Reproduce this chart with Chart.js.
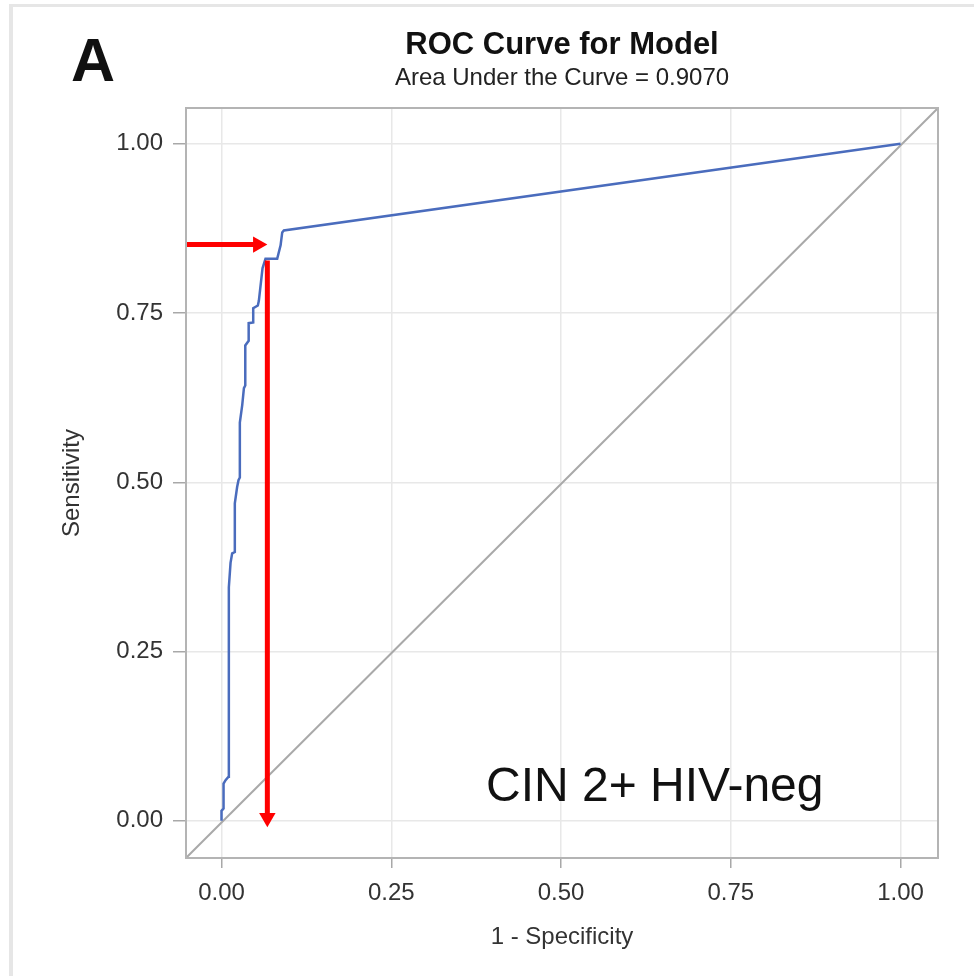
<html>
<head>
  <title>ROC Curve for Model</title>
  <script src="https://cdn.jsdelivr.net/npm/chart.js"></script>
  <style>
    body { margin: 0; background: #fff; }
    #frameTop { position: absolute; left: 9px; top: 4px; width: 965px; height: 3px; background: #e6e6e6; }
    #frameLeft { position: absolute; left: 9px; top: 4px; width: 4px; height: 972px; background: #e6e6e6; }
    #myChart { position: absolute; left: 0; top: 0; }
  </style>
</head>
<body>
  <div id="frameTop"></div>
  <div id="frameLeft"></div>
  <canvas id="myChart" width="974" height="976"></canvas>

  <script>
    // ROC curve (1 - specificity, sensitivity)
    var fpr = [0, 0, 0.003, 0.003, 0.006, 0.0103, 0.0108, 0.0133, 0.0157, 0.0196, 0.0196, 0.023, 0.025, 0.027,
               0.027, 0.0305, 0.033, 0.035, 0.035, 0.040, 0.040, 0.0467, 0.0467, 0.0535, 0.055, 0.0604, 0.0648,
               0.082, 0.087, 0.0894, 0.0918, 1];
    var tpr = [0, 0.0147, 0.018, 0.055, 0.06, 0.065, 0.345, 0.381, 0.395, 0.397, 0.469, 0.493, 0.503, 0.507,
               0.588, 0.614, 0.639, 0.643, 0.702, 0.709, 0.735, 0.736, 0.757, 0.761, 0.768, 0.816, 0.830,
               0.830, 0.850, 0.869, 0.872, 1];

    var tickValues = [0, 0.25, 0.5, 0.75, 1];
    var xRange = [-0.0523, 1.0552];
    var yRange = [-0.055, 1.0528];

    // red arrows: [start, head]
    var arrowH = { x: [-0.0523, 0.0535], y: [0.851, 0.851] };
    var arrowV = { x: [0.0675, 0.0675], y: [0.8275, 0.0043] };

    var fontFamily = "'Liberation Sans', Arial, sans-serif";

    function toPoints(xs, ys) {
      return xs.map(function (x, i) { return { x: x, y: ys[i] }; });
    }

    // plot frame and the annotation text
    var extras = {
      id: "extras",
      afterDraw: function (chart) {
        var ctx = chart.ctx, a = chart.chartArea;
        ctx.save();
        ctx.strokeStyle = "#b4b4b4";
        ctx.lineWidth = 2;
        ctx.strokeRect(a.left, a.top, a.right - a.left, a.bottom - a.top);
        ctx.fillStyle = "#111";
        ctx.textBaseline = "alphabetic";
        ctx.font = "48px " + fontFamily;
        ctx.fillText("CIN 2+ HIV-neg", 486, 801);
        ctx.font = "bold 61px " + fontFamily;
        ctx.fillText("A", 71, 81);
        ctx.restore();
      }
    };

    var ctx = document.getElementById("myChart").getContext("2d");
    var chart = new Chart(ctx, {
      type: "scatter",
      data: {
        datasets: [
          {
            data: toPoints(arrowH.x, arrowH.y),
            showLine: true,
            borderColor: "#ff0000",
            backgroundColor: "#ff0000",
            borderWidth: 5,
            pointRadius: [0, 9.5],
            pointStyle: "triangle",
            pointRotation: 90,
            pointBorderWidth: 0,
            order: 0
          },
          {
            data: toPoints(arrowV.x, arrowV.y),
            showLine: true,
            borderColor: "#ff0000",
            backgroundColor: "#ff0000",
            borderWidth: 5,
            pointRadius: [0, 9.5],
            pointStyle: "triangle",
            pointRotation: 180,
            pointBorderWidth: 0,
            order: 1
          },
          {
            data: toPoints(fpr, tpr),
            showLine: true,
            borderColor: "#4a6cbd",
            borderWidth: 2.5,
            pointRadius: 0,
            order: 2
          },
          {
            data: toPoints(xRange, yRange),
            showLine: true,
            borderColor: "#a9a9a9",
            borderWidth: 2,
            pointRadius: 0,
            order: 3
          }
        ]
      },
      options: {
        responsive: false,
        animation: false,
        devicePixelRatio: 1,
        layout: { padding: { left: 58, right: 36, top: 27, bottom: 24 } },
        plugins: {
          legend: { display: false },
          tooltip: { enabled: false },
          title: {
            display: true,
            text: "ROC Curve for Model",
            fullSize: false,
            color: "#111",
            font: { family: fontFamily, size: 31, weight: "bold", lineHeight: 1.2 },
            padding: { top: 0, bottom: 0 }
          },
          subtitle: {
            display: true,
            text: "Area Under the Curve = 0.9070",
            fullSize: false,
            color: "#222",
            font: { family: fontFamily, size: 24, lineHeight: 1.2 },
            padding: { top: 0, bottom: 15 }
          }
        },
        scales: {
          x: {
            type: "linear",
            min: xRange[0],
            max: xRange[1],
            afterBuildTicks: function (s) { s.ticks = tickValues.map(function (v) { return { value: v }; }); },
            afterFit: function (s) { s.height = 94; },
            grid: { color: "#e8e8e8", lineWidth: 1.5, tickColor: "#a8a8a8", tickLength: 10 },
            border: { display: false },
            ticks: {
              color: "#333",
              padding: 11,
              maxRotation: 0,
              font: { family: fontFamily, size: 24 },
              callback: function (v) { return v.toFixed(2); }
            },
            title: {
              display: true,
              text: "1 - Specificity",
              color: "#333",
              font: { family: fontFamily, size: 24, lineHeight: 1.2 },
              padding: { top: 0, bottom: 0 }
            }
          },
          y: {
            type: "linear",
            min: yRange[0],
            max: yRange[1],
            afterBuildTicks: function (s) { s.ticks = tickValues.map(function (v) { return { value: v }; }); },
            afterFit: function (s) { s.width = 128; },
            grid: { color: "#e8e8e8", lineWidth: 1.5, tickColor: "#a8a8a8", tickLength: 13 },
            border: { display: false },
            ticks: {
              color: "#333",
              padding: 10,
              font: { family: fontFamily, size: 24 },
              callback: function (v) { return v.toFixed(2); }
            },
            title: {
              display: true,
              text: "Sensitivity",
              color: "#333",
              font: { family: fontFamily, size: 24, lineHeight: 1.2 },
              padding: { top: 0, bottom: 0 }
            }
          }
        }
      },
      plugins: [extras]
    });
  </script>
</body>
</html>
